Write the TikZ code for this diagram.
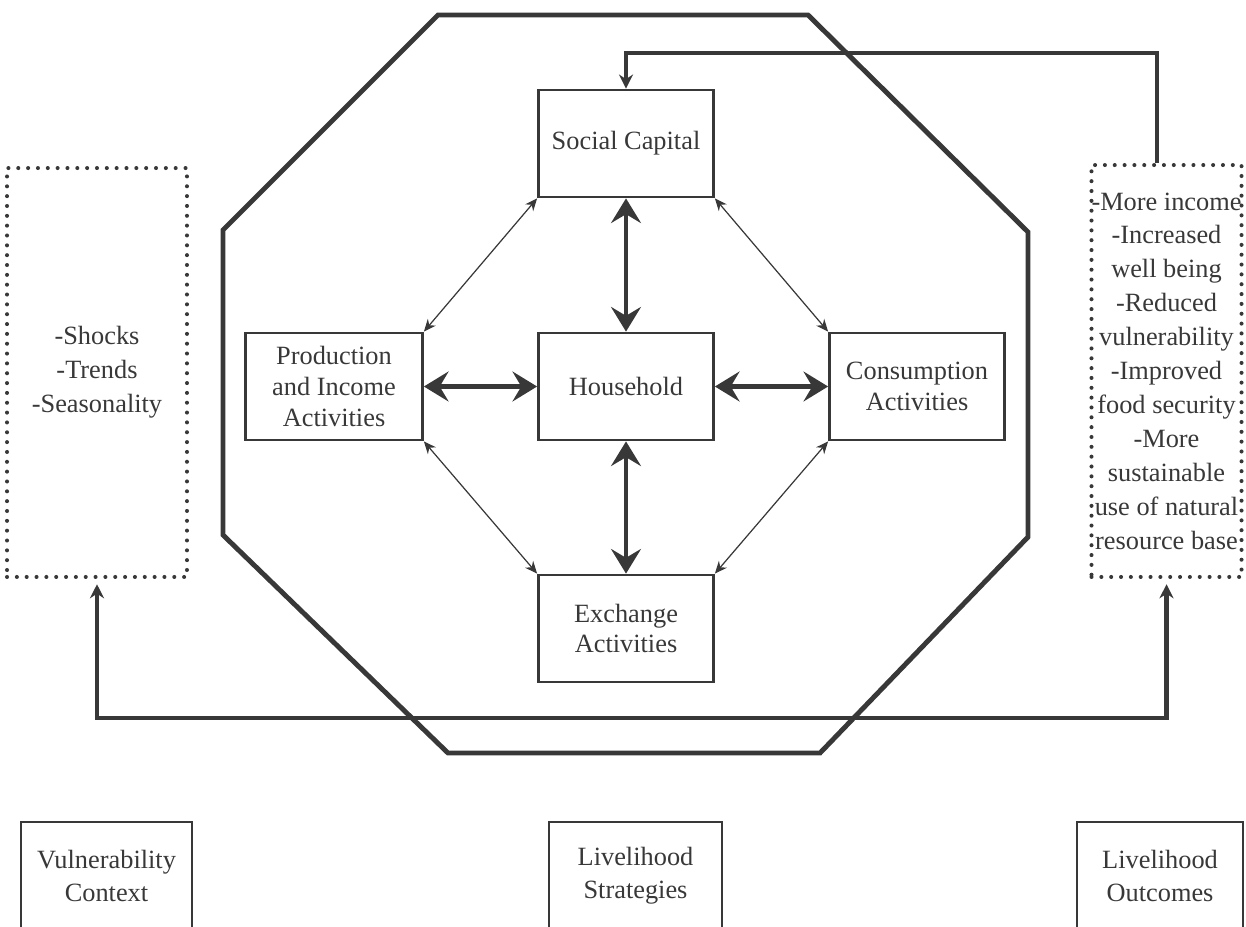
\documentclass[tikz,border=0pt]{standalone}
\usepackage{fontspec}
\setmainfont{Liberation Serif}
\usetikzlibrary{arrows.meta}
\definecolor{ink}{HTML}{383838}

\begin{document}
\begin{tikzpicture}[x=0.02cm, y=-0.02cm,
  box/.style={rectangle, draw=ink, line width=1.6pt, minimum width=3.5cm, minimum height=2.14cm, inner sep=0pt, text=ink, text centered, align=center, font=\fontsize{15}{17.5}\selectfont},
  dotbox/.style={rectangle, draw=ink, line width=2.3pt, line cap=round, dash pattern=on 0pt off 5.6pt, inner sep=0pt, text=ink, text centered, align=center, font=\fontsize{15}{19.3}\selectfont},
  labelbox/.style={rectangle, draw=ink, line width=1.3pt, minimum height=2.16cm, inner sep=0pt, text=ink, text centered, align=center, font=\fontsize{15}{18.8}\selectfont},
  bigarrow/.style={{Stealth[length=14pt, width=17pt, inset=5pt]}-{Stealth[length=14pt, width=17pt, inset=5pt]}, line width=2.8pt, draw=ink},
  thinarrow/.style={{Stealth[length=7pt, width=6pt]}-{Stealth[length=7pt, width=6pt]}, line width=0.7pt, draw=ink},
  feedback/.style={-{Stealth[length=8pt, width=8pt]}, line width=2.4pt, draw=ink},
  bothway/.style={{Stealth[length=8pt, width=8pt]}-{Stealth[length=8pt, width=8pt]}, line width=2.4pt, draw=ink, shorten <=3pt, shorten >=3pt}
]
  \useasboundingbox (0,0) rectangle (1246,926);
  \clip (0,0) rectangle (1246,926);

  \draw[line width=2.8pt, draw=ink, line join=miter] (438,15) -- (808,15) -- (1028,232) -- (1028,537) -- (820,753) -- (448,753) -- (223,535) -- (223,230) -- cycle;

  \node[box] (social) at (626,143.5) {Social Capital};
  \node[box] (household) at (626,386.5) {Household};
  \node[box, minimum width=3.54cm] (production) at (334,386.5) {Production\\and Income\\Activities};
  \node[box] (consumption) at (917,386.5) {Consumption\\Activities};
  \node[box] (exchange) at (626,628.5) {Exchange\\Activities};

  \node[dotbox, minimum width=3.6cm, minimum height=8.18cm] (shocks) at (97,372.5) {-Shocks\\-Trends\\-Seasonality};
  \node[dotbox, minimum width=2.98cm, minimum height=8.24cm] (outcomes) at (1166.5,371) {-More income\\-Increased\\well being\\-Reduced\\vulnerability\\-Improved\\food security\\-More\\sustainable\\use of natural\\resource base};

  \node[labelbox, minimum width=3.42cm] (vulncontext) at (106.5,876) {Vulnerability\\Context};
  \node[labelbox, minimum width=3.46cm] (strategies) at (635.5,876) {Livelihood\\Strategies};
  \node[labelbox, minimum width=3.32cm] (outcomelabel) at (1160,876) {Livelihood\\Outcomes};

  \draw[bigarrow] (social) -- (household);
  \draw[bigarrow] (household) -- (exchange);
  \draw[bigarrow] (production) -- (household);
  \draw[bigarrow] (household) -- (consumption);

  \draw[thinarrow] (social.south west) -- (production.north east);
  \draw[thinarrow] (social.south east) -- (consumption.north west);
  \draw[thinarrow] (production.south east) -- (exchange.north west);
  \draw[thinarrow] (consumption.south west) -- (exchange.north east);

  \coordinate (toprun) at (1157,53);
  \coordinate (lowrun) at (0,718);
  \draw[feedback] (toprun |- outcomes.north) -- (toprun) -| (social.north);
  \draw[bothway] (shocks.south) -- (shocks.south |- lowrun) -- (outcomes.south |- lowrun) -- (outcomes.south);
\end{tikzpicture}
\end{document}
